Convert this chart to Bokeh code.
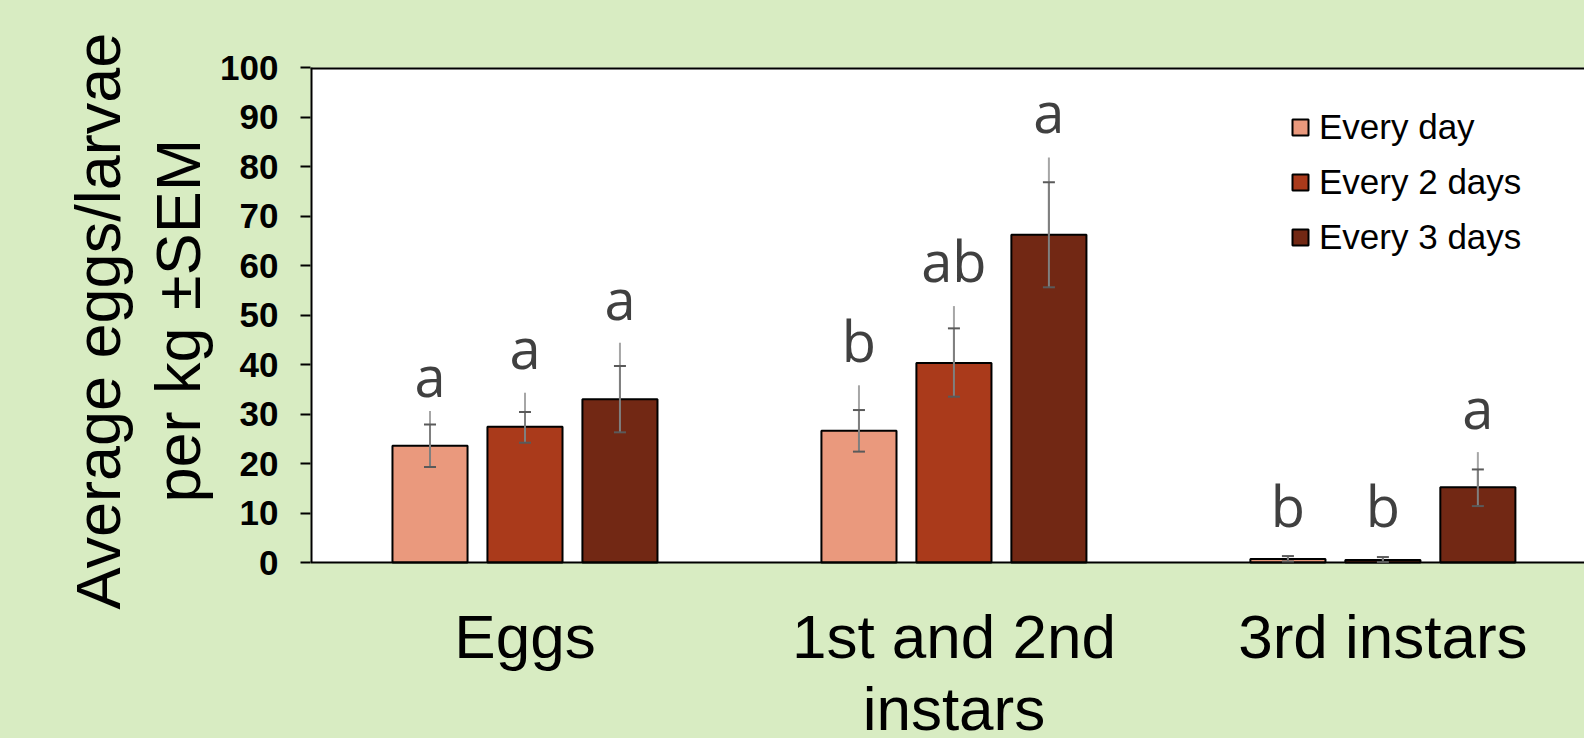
from bokeh.plotting import figure
from bokeh.models import Range1d, FixedTicker, ColumnDataSource, Whisker, TeeHead, Legend, LegendItem, BoxAnnotation, Span, Title
from bokeh.core.properties import value
from bokeh.embed import file_html
from bokeh.resources import INLINE

# ---- data ----
stages = ["Eggs", "1st and 2nd\ninstars", "3rd instars"]
treatments = ["Every day", "Every 2 days", "Every 3 days"]
colors = ["#EA997D", "#AA3A1B", "#722814"]
means = {
    "Every day": [23.6, 26.6, 0.7],
    "Every 2 days": [27.4, 40.3, 0.5],
    "Every 3 days": [33.0, 66.2, 15.2],
}
upper = {
    "Every day": [27.9, 30.8, 1.3],
    "Every 2 days": [30.4, 47.3, 1.1],
    "Every 3 days": [39.7, 76.8, 18.8],
}
lower = {
    "Every day": [19.3, 22.4, 0.2],
    "Every 2 days": [24.2, 33.5, 0.1],
    "Every 3 days": [26.3, 55.6, 11.4],
}
extended = {
    "Every day": [30.6, 35.8, 1.3],
    "Every 2 days": [34.3, 51.8, 1.1],
    "Every 3 days": [44.4, 81.8, 22.3],
}
letters = {
    "Every day": ["a", "b", "b"],
    "Every 2 days": ["a", "ab", "b"],
    "Every 3 days": ["a", "a", "a"],
}
letter_y = {
    "Every day": [33.1, 40.1, 6.7],
    "Every 2 days": [38.7, 56.2, 6.7],
    "Every 3 days": [48.6, 86.3, 26.6],
}
y_ticks = list(range(0, 101, 10))
y_title = ["Average eggs/larvae", "per kg \u00b1SEM"]

# ---- layout ----
W, H = 1584, 738
BG = "#d8ecc2"
PX_PER_UNIT = 4.95            # vertical pixels per data unit
BOTTOM_PX = 176               # room under the zero line for category names
BASELINE_FIX = 24 / PX_PER_UNIT   # renderer draws alphabetic baselines a bit low
y_min = -BOTTOM_PX / PX_PER_UNIT
y_max = y_ticks[-1]
x_max = 2.97
dodge = 0.2214
bar_w = 0.175
title_offsets = [129, 236]    # px from the frame bottom to the start of each title line
title_standoffs = [6, 10]

p = figure(width=W, height=H, output_backend="svg", toolbar_location=None,
           x_range=Range1d(0, x_max), y_range=Range1d(y_min, y_max),
           min_border_left=310, min_border_right=0, min_border_top=67, min_border_bottom=0)
p.background_fill_color = BG
p.border_fill_color = BG
p.outline_line_color = None
p.xgrid.visible = False
p.ygrid.visible = False
p.xaxis.visible = False

# white plotting area above the zero line
p.add_layout(BoxAnnotation(bottom=0, fill_color="white", fill_alpha=1, line_color=None, level="underlay"))
# zero line, left axis line and top border
p.add_layout(Span(location=0, dimension="width", line_color="black", line_width=2))
p.segment(x0=[0], y0=[y_ticks[0]], x1=[0], y1=[y_max], line_color="black", line_width=4)
p.segment(x0=[0], y0=[y_max], x1=[x_max], y1=[y_max], line_color="black", line_width=4)

items = []
for j, t in enumerate(treatments):
    xs = [i + 0.5 + (j - 1) * dodge for i in range(len(stages))]
    src = ColumnDataSource(dict(x=xs, top=means[t], up=upper[t], lo=lower[t],
                                ext=extended[t], lab=letters[t],
                                ly=[v + BASELINE_FIX for v in letter_y[t]]))
    r = p.vbar(x="x", top="top", width=bar_w, source=src, fill_color=colors[j],
               line_color="black", line_width=2)
    items.append(LegendItem(label=t, renderers=[r]))
    p.segment(x0="x", y0="top", x1="x", y1="ext", source=src, line_color="#a6a6a6", line_width=2)
    w = Whisker(source=src, base="x", upper="up", lower="lo", dimension="height",
                line_color="#7f7f7f", line_width=2, level="annotation",
                upper_head=TeeHead(size=12, line_color="#5a5a5a", line_width=2),
                lower_head=TeeHead(size=12, line_color="#5a5a5a", line_width=2))
    p.add_layout(w)
    p.text(x="x", y="ly", text="lab", source=src, text_font=value("Open Sans"),
           text_font_size="56px", text_color="#404040", text_align="center",
           text_baseline="alphabetic")

# category names under the zero line
first_baseline = -98 / PX_PER_UNIT + BASELINE_FIX
line_step = 72 / PX_PER_UNIT
cx, cy, ct = [], [], []
for i, s in enumerate(stages):
    for k, line in enumerate(s.split("\n")):
        cx.append(i + 0.5)
        cy.append(first_baseline - k * line_step)
        ct.append(line)
p.text(x=cx, y=cy, text=ct, text_font=value("Liberation Sans"), text_font_size="62px",
       text_color="black", text_align="center", text_baseline="alphabetic")

legend = Legend(items=items, location=(980, 481), border_line_color=None,
                background_fill_alpha=0, padding=0, margin=0, spacing=15,
                glyph_width=20, glyph_height=20, label_standoff=9,
                label_text_font="Liberation Sans", label_text_font_size="35px",
                label_text_color="black")
p.add_layout(legend)

# y axis
p.yaxis.ticker = FixedTicker(ticks=y_ticks)
p.yaxis.axis_line_color = None
p.yaxis.major_tick_line_color = "black"
p.yaxis.major_tick_line_width = 2
p.yaxis.major_tick_out = 10
p.yaxis.major_tick_in = 0
p.yaxis.minor_tick_line_color = None
p.yaxis.major_label_standoff = 22
p.yaxis.major_label_text_font = "Liberation Sans"
p.yaxis.major_label_text_font_style = "bold"
p.yaxis.major_label_text_font_size = "35px"
p.yaxis.major_label_text_color = "black"

# axis title as two side titles (inner line first), lifted beside the 0-100 scale
for k in reversed(range(len(y_title))):
    p.add_layout(Title(text=y_title[k], align="left", offset=title_offsets[k],
                       standoff=title_standoffs[k],
                       text_font="Liberation Sans", text_font_style="normal",
                       text_font_size="63px", text_color="black"), "left")

html = file_html(p, INLINE)
html = html.replace("</head>", "<style>html,body{background:%s;}</style></head>" % BG, 1)
open("out.html", "w").write(html)
